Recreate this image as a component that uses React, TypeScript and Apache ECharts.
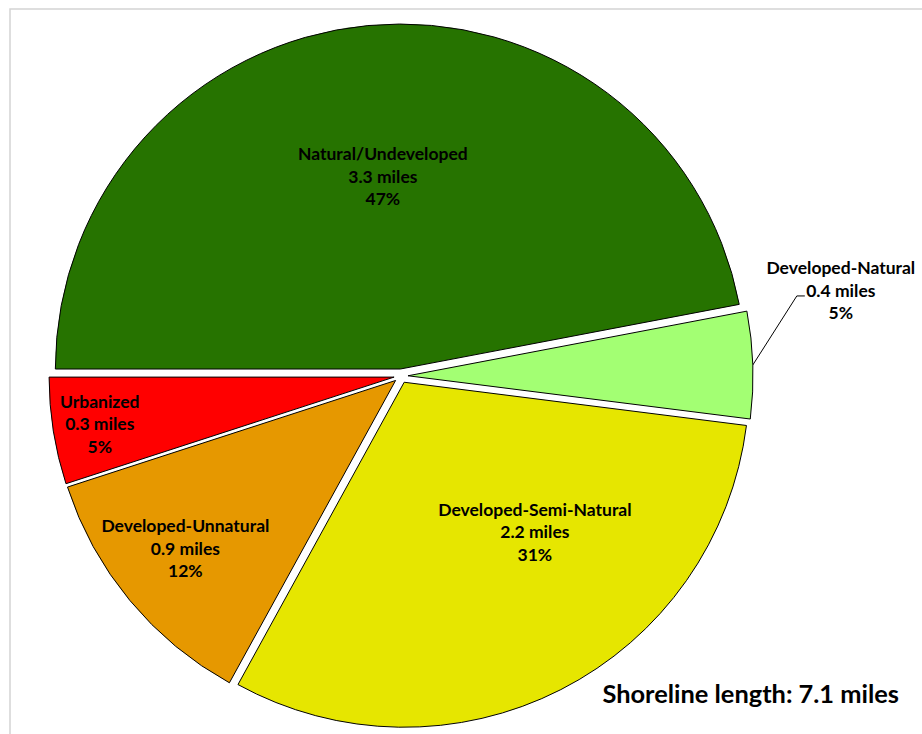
import React, { useEffect, useRef } from "react";
import * as echarts from "echarts";

const categories = [
  "Natural/Undeveloped",
  "Developed-Natural",
  "Developed-Semi-Natural",
  "Developed-Unnatural",
  "Urbanized",
];
const miles = [3.3, 0.4, 2.2, 0.9, 0.3];
const percents = [47, 5, 31, 12, 5];
const totalLabel = "Shoreline length: 7.1 miles";

const colors = ["#267300", "#A3FF73", "#E6E600", "#E69800", "#FF0000"];
const labelShifts: number[][] = [
  [-1, -18],
  [55, -74],
  [51, -7],
  [-75, 56],
  [-121, 19],
];

const FONT = "Lato, 'Liberation Sans', sans-serif";

export default function App() {
  const ref = useRef<HTMLDivElement>(null);
  useEffect(() => {
    document.body.style.margin = "0";
    const chart = echarts.init(ref.current!, null, { renderer: "svg" });
    const data = categories.map((name, i) => {
      const item: any = {
        name,
        value: percents[i],
        selected: true,
        itemStyle: { color: colors[i] },
      };
      if (i === 1) {
        item.label = { position: "outside", align: "center" };
        item.labelLine = { show: true, length: 20, length2: 8 };
      } else {
        item.label = { position: "inside" };
        item.labelLine = { show: false };
      }
      return item;
    });
    chart.setOption({
      animation: false,
      backgroundColor: "#ffffff",
      graphic: [
        {
          type: "rect",
          shape: { x: 10, y: 9, width: 940, height: 760 },
          style: { fill: "none", stroke: "#d4d4d4", lineWidth: 1.5 },
          silent: true,
        },
        {
          type: "text",
          x: 899,
          y: 693,
          style: {
            text: totalLabel,
            fill: "#000",
            font: `bold 25.4px ${FONT}`,
            textAlign: "right",
            textVerticalAlign: "middle",
          },
        },
      ],
      series: [
        {
          type: "pie",
          center: [401, 376],
          radius: 345,
          startAngle: 180,
          clockwise: true,
          avoidLabelOverlap: false,
          selectedMode: "multiple",
          selectedOffset: 7,
          itemStyle: { borderColor: "#000", borderWidth: 1 },
          emphasis: { disabled: true },
          label: {
            show: true,
            color: "#000",
            fontFamily: FONT,
            fontWeight: "bold",
            fontSize: 17.5,
            lineHeight: 22.5,
            align: "center",
            formatter: (p: any) =>
              `${p.name}\n${miles[p.dataIndex]} miles\n${percents[p.dataIndex]}%`,
          },
          labelLine: { lineStyle: { color: "#000", width: 1 } },
          labelLayout: (params: any) => {
            const s = labelShifts[params.dataIndex];
            const out: any = { dx: s[0], dy: s[1], align: "center" };
            if (params.dataIndex === 1 && params.labelLinePoints) {
              const p0 = params.labelLinePoints[0];
              out.labelLinePoints = [
                [p0[0], p0[1]],
                [p0[0] + 44, p0[1] - 69],
                [p0[0] + 52, p0[1] - 69],
              ];
            }
            return out;
          },
          data,
        },
      ],
    });
    return () => chart.dispose();
  }, []);
  return <div ref={ref} style={{ width: 922, height: 734 }} />;
}
